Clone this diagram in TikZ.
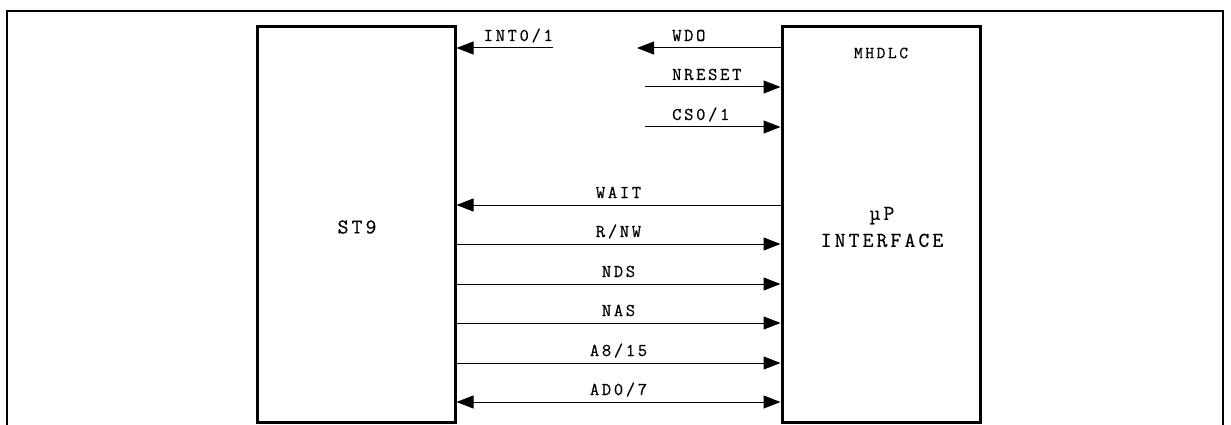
\documentclass[tikz,border=0pt]{standalone}
\usepackage{fontspec}
\newfontfamily\sigfont[LetterSpace=15, FakeBold=0.6]{Latin Modern Mono}
\usetikzlibrary{arrows.meta}

\begin{document}
\begin{tikzpicture}[x=1pt, y=-1pt,
  chip/.style={draw, line width=3pt, minimum width=198pt, minimum height=395pt, inner sep=0pt},
  sig/.style={-{Triangle[length=17pt,width=13pt]}, line width=1pt},
  bus/.style={{Triangle[length=17pt,width=13pt]}-{Triangle[length=17pt,width=13pt]}, line width=1pt},
  lbl/.style={font=\sigfont\fontsize{18}{18}\selectfont, inner sep=0pt},
  chiptitle/.style={font=\sigfont\fontsize{21}{27}\selectfont, inner sep=0pt, align=center},
]
  \useasboundingbox (0,0) rectangle (1231,425);
  \draw[line width=1.8pt] (7,426) -- (7,11) -- (1223,11) -- (1223,426);

  \node[chip] (st9)  at (356,224.5) {};
  \node[chip] (hdlc) at (881,224.5) {};

  \node[chiptitle] (st9name)  at (357,227) {ST9};
  \node[lbl, font=\sigfont\fontsize{17}{17}\selectfont] (hdlcname) at (881,53) {MHDLC};
  \node[chiptitle] (upif)     at (882,227) {µP\\INTERFACE};

  % free ends of the short lines
  \coordinate (intsrc)   at (553,48);
  \coordinate (wdodst)   at (637,48);
  \coordinate (rstsrc)   at (645,87);
  \coordinate (cssrc)    at (645,127);

  \draw[sig] (intsrc) -- (intsrc -| st9.east)
    node[lbl, anchor=base, pos=0.36, yshift=7pt] (intlbl) {INT0/1};
  \draw[sig] (wdodst -| hdlc.west) -- (wdodst);
  \node[lbl, anchor=base west] (wdolbl) at (672,41) {WDO};
  \draw[sig] (rstsrc) -- (rstsrc -| hdlc.west);
  \node[lbl, anchor=base west] (rstlbl) at (672,80) {NRESET};
  \draw[sig] (cssrc) -- (cssrc -| hdlc.west);
  \node[lbl, anchor=base west] (cslbl) at (672,120) {CS0/1};

  \draw[sig] (hdlc.west |- 0,205) -- (st9.east |- 0,205)
    node[lbl, anchor=base, midway, yshift=7pt] (waitlbl) {WAIT};
  \draw[sig] (st9.east |- 0,244) -- (hdlc.west |- 0,244)
    node[lbl, anchor=base, midway, yshift=7pt] (rnwlbl) {R/NW};
  \draw[sig] (st9.east |- 0,284) -- (hdlc.west |- 0,284)
    node[lbl, anchor=base, midway, yshift=7pt] (ndslbl) {NDS};
  \draw[sig] (st9.east |- 0,323) -- (hdlc.west |- 0,323)
    node[lbl, anchor=base, midway, yshift=7pt] (naslbl) {NAS};
  \draw[sig] (st9.east |- 0,363) -- (hdlc.west |- 0,363)
    node[lbl, anchor=base, midway, yshift=7pt] (addrlbl) {A8/15};
  \draw[bus] (st9.east |- 0,402) -- (hdlc.west |- 0,402)
    node[lbl, anchor=base, midway, yshift=7pt] (datalbl) {AD0/7};
\end{tikzpicture}
\end{document}
